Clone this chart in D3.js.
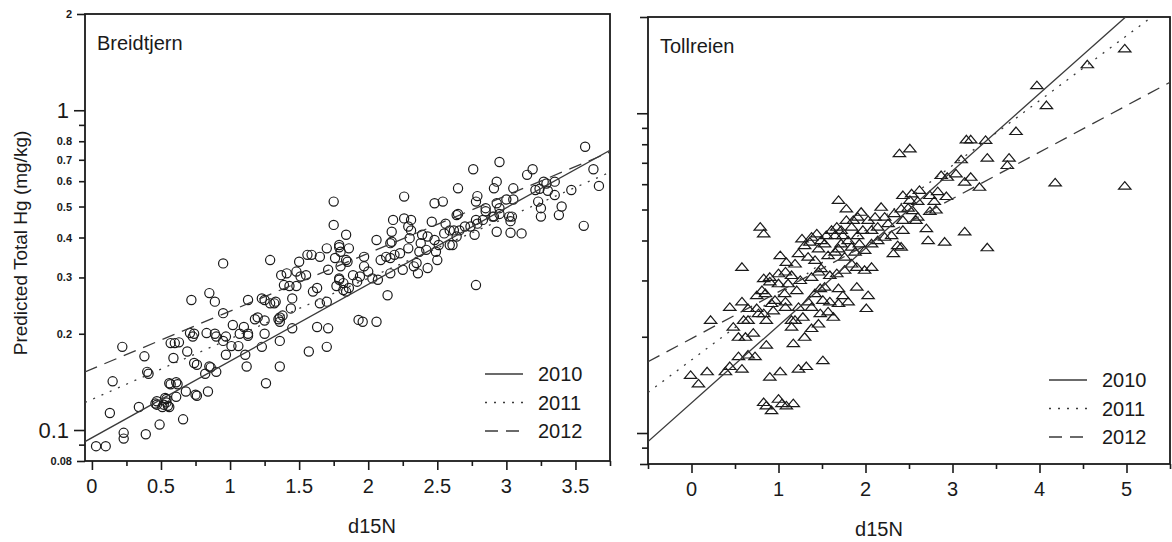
<!DOCTYPE html>
<html>
<head>
<meta charset="utf-8">
<script src="https://cdn.jsdelivr.net/npm/d3@7"></script>
<style>
  body { margin: 0; background: #fff; }
  text { font-family: "Liberation Sans", Arial, sans-serif; fill: #1a1a1a; }
</style>
</head>
<body>
<svg id="chart" width="1172" height="542"></svg>
<script>
// ---- data ----
const years = ["2010", "2011", "2012"];

const yMajor = [0.1, 1];
const yMinor = [0.09, 0.2, 0.3, 0.4, 0.5, 0.6, 0.7, 0.8, 0.9];
const yEnds = [0.08, 2];
const yMinorLabels = [0.2, 0.3, 0.4, 0.5, 0.6, 0.7, 0.8];

const breidtjernXMajor = [0, 0.5, 1, 1.5, 2, 2.5, 3, 3.5];
const breidtjernXMinor = [0.25, 0.75, 1.25, 1.75, 2.25, 2.75, 3.25, 3.75];
const tollreienXMajor = [0, 1, 2, 3, 4, 5];
const tollreienXMinor = [-0.5, 0.5, 1.5, 2.5, 3.5, 4.5, 5.5];

// fitted lines: [x start, y start, x end, y end] per year
const breidtjernFits = [
  [-0.05, 0.092, 3.75, 0.75],
  [-0.05, 0.122, 3.75, 0.64],
  [-0.05, 0.152, 3.75, 0.74]
];
const tollreienFits = [
  [-0.5, 0.094, 4.99, 2.0],
  [-0.5, 0.134, 5.29, 2.0],
  [-0.5, 0.167, 5.5, 1.25]
];

const breidtjernPoints = [
  [0.03,0.089],[0.10,0.089],[0.23,0.098],[0.23,0.094],[0.13,0.113],[0.15,0.142],[0.22,0.182],
  [0.38,0.170],[0.40,0.152],[0.41,0.150],[0.34,0.118],[0.39,0.097],[0.49,0.104],
  [0.47,0.120],[0.46,0.121],[0.52,0.120],[0.54,0.122],[0.55,0.119],[0.54,0.125],[0.53,0.126],
  [0.51,0.118],[0.47,0.123],[0.56,0.118],[0.61,0.127],[0.56,0.140],[0.57,0.139],[0.62,0.139],
  [0.61,0.141],[0.59,0.168],[0.57,0.187],[0.60,0.187],[0.63,0.188],[0.72,0.255],[0.66,0.108],
  [0.68,0.132],[0.75,0.129],[0.76,0.128],[0.74,0.162],[0.76,0.160],[0.69,0.176],[0.71,0.201],
  [0.74,0.200],[0.73,0.196],[0.84,0.132],[0.82,0.150],[0.85,0.158],[0.86,0.157],[0.90,0.152],
  [0.85,0.268],[0.89,0.252],[0.83,0.201],[0.89,0.200],[0.90,0.196],[0.97,0.196],[0.95,0.190],
  [0.97,0.172],[0.95,0.232],[0.95,0.332],[1.02,0.213],[1.10,0.210],[1.11,0.172],[1.07,0.200],
  [1.06,0.183],[1.13,0.200],[1.13,0.197],[1.13,0.255],[1.23,0.258],[1.25,0.255],[1.23,0.182],
  [1.25,0.220],[1.18,0.222],[1.20,0.225],[1.26,0.140],[1.29,0.340],[1.29,0.249],[1.32,0.249],
  [1.33,0.252],[1.35,0.222],[1.36,0.225],[1.38,0.228],[1.36,0.218],[1.36,0.190],[1.01,0.183],
  [1.12,0.158],[1.25,0.200],[1.36,0.158],[1.45,0.208],[1.57,0.176],[1.63,0.210],
  [1.37,0.305],[1.41,0.309],[1.39,0.284],[1.43,0.282],[1.48,0.282],[1.45,0.258],[1.44,0.240],
  [1.48,0.313],[1.50,0.336],[1.51,0.302],[1.55,0.305],[1.56,0.353],[1.59,0.353],[1.60,0.271],
  [1.63,0.278],[1.65,0.348],[1.65,0.249],[1.70,0.370],[1.70,0.252],[1.71,0.317],[1.71,0.208],
  [1.70,0.182],[1.75,0.438],[1.75,0.518],[1.76,0.345],[1.77,0.282],[1.79,0.379],[1.79,0.298],
  [1.80,0.361],[1.82,0.288],[1.84,0.408],[1.84,0.271],[1.85,0.336],[1.86,0.278],[1.89,0.305],
  [1.92,0.291],[1.93,0.221],[1.79,0.373],[1.86,0.370],[1.84,0.340],[1.80,0.325],[1.79,0.295],
  [1.82,0.274],[1.94,0.302],[1.97,0.348],[1.97,0.325],[2.00,0.313],[2.03,0.298],[2.07,0.295],
  [2.06,0.393],[2.09,0.340],[2.13,0.348],[2.16,0.384],[2.17,0.417],[2.16,0.309],[2.19,0.353],
  [2.23,0.357],[2.25,0.317],[2.29,0.370],[2.30,0.398],[2.31,0.421],[2.37,0.361],[2.38,0.384],
  [2.42,0.366],[2.43,0.403],[2.48,0.393],[2.49,0.361],[2.51,0.379],[2.55,0.412],[2.59,0.379],
  [2.64,0.403],[2.66,0.421],[2.70,0.433],[2.74,0.433],[2.78,0.454],[2.83,0.454],[2.85,0.494],
  [2.90,0.465],[2.95,0.474],
  [3.57,0.769],[3.63,0.654],[3.67,0.580],[3.56,0.435],[3.47,0.563],[3.35,0.543],[3.35,0.598],
  [3.25,0.465],[3.25,0.494],[3.23,0.518],[3.21,0.563],[3.24,0.568],[3.27,0.598],[3.29,0.590],
  [3.19,0.654],[3.15,0.628],[3.11,0.412],[3.03,0.414],[3.04,0.465],[3.03,0.450],[3.05,0.570],
  [2.95,0.689],[2.93,0.598],[2.91,0.570],[2.93,0.417],[2.76,0.654],[2.78,0.284],[2.79,0.539],
  [2.78,0.518],[2.77,0.408],[2.65,0.570],[2.65,0.474],[2.64,0.470],[2.54,0.518],[2.48,0.512],
  [2.50,0.340],[2.43,0.321],[2.33,0.325],[2.35,0.333],[2.36,0.309],[2.31,0.454],[2.29,0.433],
  [2.26,0.459],[2.18,0.454],[2.17,0.388],[2.16,0.345],[2.14,0.264],[1.96,0.218],[2.06,0.218],
  [2.26,0.537],[2.39,0.408],[2.46,0.448],[2.56,0.442],[2.59,0.421],[2.62,0.421],[2.61,0.379],
  [2.79,0.442],[2.85,0.483],[2.91,0.465],[2.93,0.512],[2.95,0.494],[3.00,0.526],[3.02,0.465],
  [3.05,0.526],[3.40,0.500],[3.30,0.560],[3.38,0.470]
];

const tollreienPoints = [
  [2.39,0.750],[2.51,0.777],[1.69,0.536],[1.78,0.504],[0.79,0.442],[0.83,0.421],[0.58,0.331],
  [0.22,0.226],[-0.01,0.152],[0.08,0.143],[0.18,0.156],[0.39,0.156],[0.44,0.162],[0.54,0.174],
  [0.58,0.159],[0.65,0.176],[0.73,0.174],[0.86,0.189],[0.90,0.150],[1.02,0.156],[0.83,0.125],
  [0.86,0.122],[0.92,0.118],[1.00,0.128],[1.04,0.124],[1.09,0.122],[1.17,0.124],[1.17,0.191],
  [1.23,0.159],[1.32,0.162],[1.51,0.169],[1.30,0.200],[0.86,0.226],[0.62,0.200],[0.71,0.206],
  [0.48,0.215],[0.60,0.226],[0.44,0.248],[0.58,0.258],[0.65,0.246],[0.75,0.246],[0.83,0.237],
  [0.94,0.242],[1.08,0.248],[1.19,0.226],[1.15,0.215],[0.85,0.274],[0.96,0.261],[1.08,0.258],
  [0.75,0.270],[0.81,0.280],[0.90,0.298],[1.00,0.294],[1.11,0.294],[1.21,0.280],[1.00,0.316],
  [1.08,0.320],[1.15,0.312],[1.25,0.301],[0.83,0.305],[0.90,0.308],[1.02,0.360],[1.09,0.343],
  [1.19,0.339],[1.23,0.365],[1.30,0.387],[1.38,0.411],[1.46,0.378],[1.34,0.356],[1.42,0.348],
  [1.49,0.328],[1.57,0.360],[1.53,0.392],[1.65,0.416],[1.72,0.432],[1.69,0.378],[1.80,0.401],
  [1.84,0.442],[1.91,0.416],[1.88,0.369],[1.76,0.356],[1.99,0.374],[2.07,0.392],[1.97,0.432],
  [2.03,0.464],[2.11,0.475],[2.18,0.510],[2.26,0.453],[2.33,0.487],[2.43,0.464],[2.30,0.416],
  [2.37,0.387],[2.32,0.365],[2.41,0.504],[2.51,0.536],[2.54,0.498],[2.60,0.475],[1.90,0.331],
  [1.76,0.324],[1.67,0.316],[1.59,0.312],[1.46,0.320],[1.53,0.287],[1.42,0.274],[1.51,0.261],
  [1.59,0.258],[1.69,0.255],[1.80,0.258],[1.90,0.287],[2.03,0.270],[2.01,0.246],[1.34,0.258],
  [1.38,0.248],[1.48,0.237],[1.57,0.240],[1.63,0.231],[1.46,0.220],[1.38,0.213],
  [1.27,0.406],[1.36,0.397],[1.44,0.421],[1.49,0.401],[1.55,0.416],[1.61,0.432],[1.67,0.442],
  [1.74,0.416],[1.78,0.464],[1.86,0.464],[1.91,0.475],[1.95,0.492],[2.07,0.432],[2.14,0.442],
  [2.22,0.475],[1.72,0.392],[1.65,0.369],[1.84,0.383],[1.93,0.392],[2.14,0.401],[2.22,0.411],
  [2.07,0.331],[1.99,0.324],[1.84,0.339],[1.38,0.308],[1.48,0.284],[1.69,0.284],[1.74,0.270],
  [1.23,0.248],[1.28,0.231],[1.15,0.226],[1.07,0.274],[0.92,0.255],[0.77,0.237],[0.65,0.226],
  [0.54,0.200],
  [4.98,1.596],[4.55,1.423],[3.97,1.225],[4.08,1.061],[3.73,0.880],[3.16,0.829],[3.21,0.829],
  [3.38,0.825],[3.10,0.718],[3.40,0.726],[3.65,0.726],[3.63,0.689],[2.87,0.641],[2.94,0.633],
  [3.04,0.649],[3.21,0.633],[3.31,0.589],[3.14,0.611],[4.18,0.608],[4.98,0.594],[2.43,0.555],
  [2.53,0.562],[2.62,0.576],[2.74,0.555],[2.83,0.571],[2.93,0.551],[2.79,0.532],[2.49,0.507],
  [2.60,0.532],[2.74,0.495],[2.81,0.500],[2.58,0.464],[2.43,0.432],[2.70,0.437],[3.14,0.427],
  [2.72,0.401],[2.91,0.397],[2.41,0.383],[3.40,0.381]
];

// ---- drawing ----
const svg = d3.select("#chart");
const dashes = ["none", "2,7", "13,8"];
const lineColor = "#3a3a3a";
const ink = "#1a1a1a";

function drawPanel(p) {
  const x = d3.scaleLinear().domain(p.xDomain).range([p.left, p.right]);
  const y = d3.scaleLog().domain([0.08, 2]).range([p.bottom, p.top]);
  const g = svg.append("g");

  const clipId = "clip-" + p.name;
  svg.append("clipPath").attr("id", clipId)
    .append("rect")
    .attr("x", p.left).attr("y", p.top)
    .attr("width", p.right - p.left).attr("height", p.bottom - p.top);

  // y ticks
  const yTick = (vals, len) => {
    g.append("g")
      .attr("transform", `translate(${p.left},0)`)
      .call(d3.axisLeft(y).tickValues(vals).tickSize(len).tickFormat(""))
      .call(a => a.select(".domain").remove())
      .selectAll("line").attr("stroke", ink).attr("stroke-width", 1.6);
  };
  yTick(yMajor, 11);
  yTick(yMinor, 6);
  yTick(yEnds, 8);

  // x ticks
  const xTick = (vals, len) => {
    g.append("g")
      .attr("transform", `translate(0,${p.bottom})`)
      .call(d3.axisBottom(x).tickValues(vals).tickSize(len).tickFormat(""))
      .call(a => a.select(".domain").remove())
      .selectAll("line").attr("stroke", ink).attr("stroke-width", 1.6);
  };
  xTick(p.xMajor, 9);
  xTick(p.xMinor, 5);

  g.selectAll(".xlab").data(p.xMajor).enter().append("text")
    .attr("x", d => x(d)).attr("y", p.bottom + 32)
    .attr("text-anchor", "middle").style("font-size", "20px")
    .text(d => d);

  if (p.yLabels) {
    g.selectAll(".ymaj").data(yMajor).enter().append("text")
      .attr("x", p.left - 16).attr("y", d => y(d) + 8)
      .attr("text-anchor", "end").style("font-size", "22px")
      .text(d => d);
    g.selectAll(".ymin").data(yMinorLabels.concat(yEnds)).enter().append("text")
      .attr("x", p.left - 13).attr("y", d => y(d) + 4)
      .attr("text-anchor", "end").style("font-size", "11px").style("font-weight", "bold")
      .text(d => d);
  }

  // frame
  g.append("rect")
    .attr("x", p.left).attr("y", p.top)
    .attr("width", p.right - p.left).attr("height", p.bottom - p.top)
    .attr("fill", "none").attr("stroke", ink).attr("stroke-width", 1.8);

  // markers
  const marks = g.append("g").attr("clip-path", `url(#${clipId})`);
  if (p.marker === "circle") {
    marks.selectAll("circle").data(p.points).enter().append("circle")
      .attr("cx", d => x(d[0])).attr("cy", d => y(d[1])).attr("r", 4.6)
      .attr("fill", "none").attr("stroke", ink).attr("stroke-width", 1.2);
  } else {
    marks.selectAll("path").data(p.points).enter().append("path")
      .attr("d", "M0,-4L6.2,3.5L-6.2,3.5Z")
      .attr("transform", d => `translate(${x(d[0])},${y(d[1])})`)
      .attr("fill", "none").attr("stroke", ink).attr("stroke-width", 1.2);
  }

  // fitted lines
  const lines = g.append("g").attr("clip-path", `url(#${clipId})`);
  lines.selectAll("line").data(p.fits).enter().append("line")
    .attr("x1", d => x(d[0])).attr("y1", d => y(d[1]))
    .attr("x2", d => x(d[2])).attr("y2", d => y(d[3]))
    .attr("stroke", lineColor).attr("stroke-width", 1.3)
    .attr("stroke-dasharray", (d, i) => dashes[i]);

  // legend
  years.forEach((yr, i) => {
    const ly = p.legendY + i * 28.5;
    g.append("line")
      .attr("x1", p.legendX).attr("x2", p.legendX + 38)
      .attr("y1", ly).attr("y2", ly)
      .attr("stroke", lineColor).attr("stroke-width", 1.4)
      .attr("stroke-dasharray", dashes[i]);
    g.append("text")
      .attr("x", p.legendX + 53).attr("y", ly + 7)
      .style("font-size", "20px").text(yr);
  });

  // panel name and axis title
  g.append("text").attr("x", p.left + 12).attr("y", p.top + 36)
    .style("font-size", "20px").text(p.name);
  g.append("text").attr("x", p.titleX).attr("y", p.bottom + 72)
    .attr("text-anchor", "middle").style("font-size", "20px").text("d15N");
}

drawPanel({
  name: "Breidtjern", left: 85, right: 610, top: 14, bottom: 461,
  xDomain: [-0.05, 3.75], xMajor: breidtjernXMajor, xMinor: breidtjernXMinor,
  points: breidtjernPoints, fits: breidtjernFits, marker: "circle", yLabels: true,
  legendX: 485, legendY: 374, titleX: 372
});

drawPanel({
  name: "Tollreien", left: 648, right: 1170, top: 17, bottom: 464,
  xDomain: [-0.5, 5.5], xMajor: tollreienXMajor, xMinor: tollreienXMinor,
  points: tollreienPoints, fits: tollreienFits, marker: "triangle", yLabels: false,
  legendX: 1049, legendY: 380, titleX: 879
});

svg.append("text")
  .attr("transform", "translate(27,243) rotate(-90)")
  .attr("text-anchor", "middle").style("font-size", "19px")
  .text("Predicted Total Hg (mg/kg)");
</script>
</body>
</html>
